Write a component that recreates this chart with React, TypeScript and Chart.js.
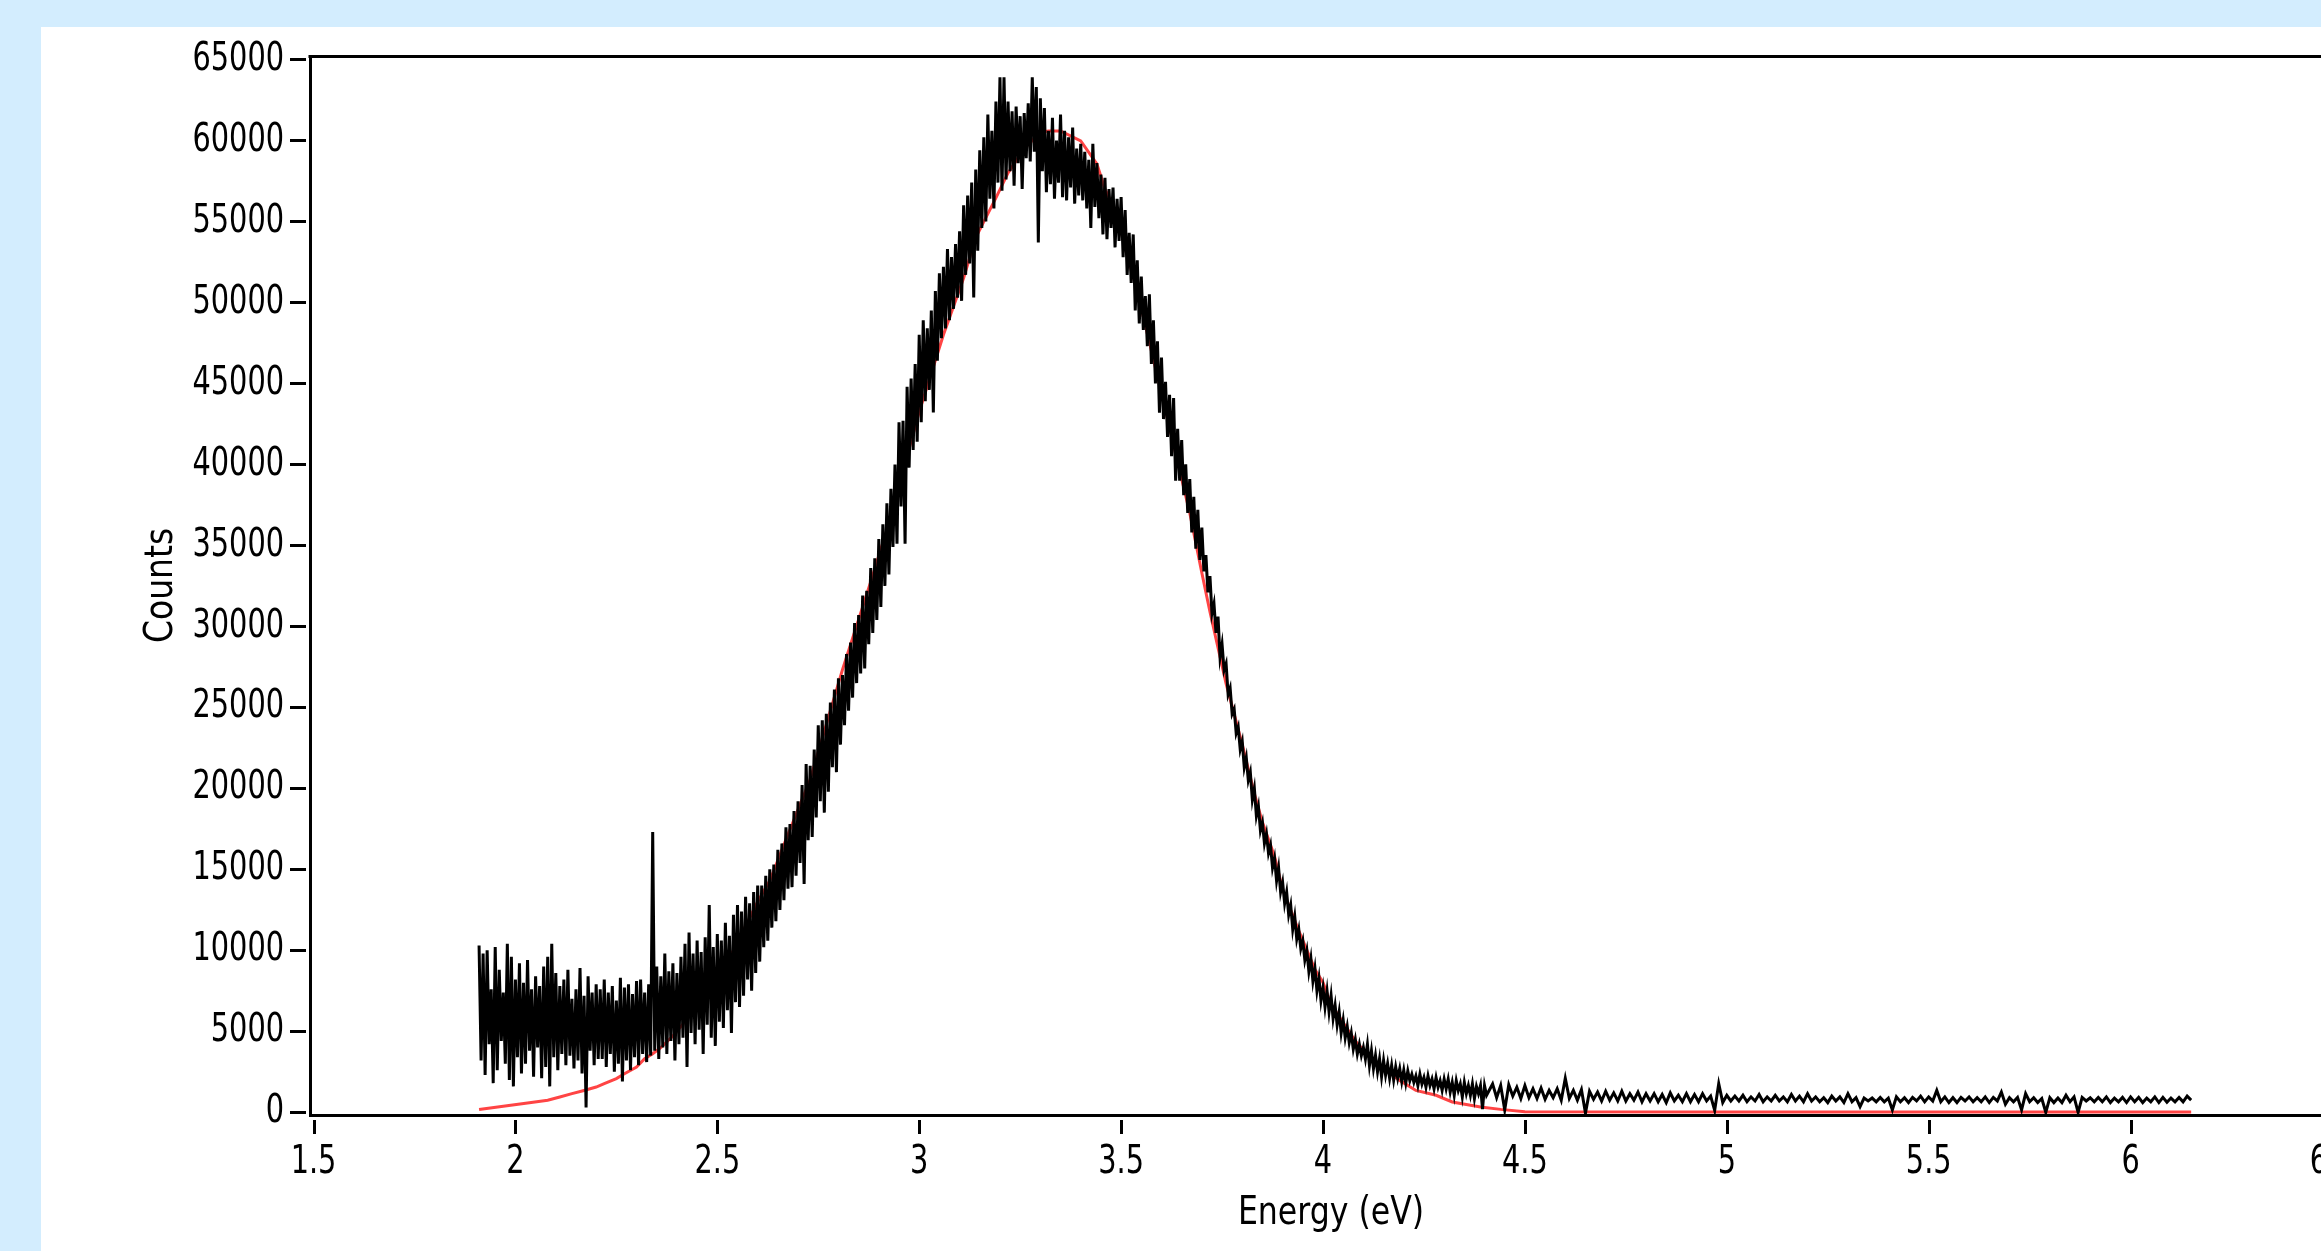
import React, { useEffect, useRef } from "react";
import { Chart, registerables } from "chart.js";

Chart.register(...registerables);

// ---------- axis setup ----------
const X_TICKS = [1.5, 2, 2.5, 3, 3.5, 4, 4.5, 5, 5.5, 6, 6.5];
const Y_TICKS = [0, 5000, 10000, 15000, 20000, 25000, 30000, 35000, 40000, 45000, 50000, 55000, 60000, 65000];
const X_MIN = 1.4913;
const X_MAX = 6.5483;
const Y_MIN = -167;
const Y_MAX = 65216;
const X_TITLE = "Energy (eV)";
const Y_TITLE = "Counts";

// ---------- measured spectrum (upper / lower envelope of the noisy trace) ----------
const DENSE_START = 1.91;
const DENSE_STEP = 0.01;
const DENSE_HI = [
  10300, 9800, 10000, 7600, 10200, 8800, 7400, 10400, 9600, 8200,
  9200, 8000, 9400, 7600, 8400, 7800, 9000, 9600, 10400, 8600,
  7800, 8200, 8800, 7000, 7600, 8900, 7200, 8400, 7400, 7900,
  7600, 8200, 7400, 7800, 6900, 8300, 7700, 7900, 7300, 8100,
  8200, 7400, 7900, 17300, 9000, 8400, 9800, 8700, 9200, 8600,
  9600, 10400, 11100, 9800, 10600, 9900, 10800, 12800, 10200, 11000,
  10600, 11700, 10900, 12200, 12800, 12400, 13300, 12900, 13600, 14000,
  14000, 14600, 15000, 15300, 16200, 16600, 17600, 17800, 18600, 19200,
  20200, 21500, 21400, 22400, 23900, 24200, 24600, 25300, 26100, 26800,
  27000, 28300, 29000, 30200, 30700, 31900, 32200, 33600, 34200, 35400,
  36300, 37600, 38500, 40000, 42600, 42700, 44800, 45300, 46200, 48000,
  48900, 48400, 49500, 50700, 51800, 52200, 53300, 52800, 53600, 54400,
  56000, 56600, 57400, 58200, 59400, 60200, 61600, 60600, 62400, 63900,
  63900, 62400, 61800, 62100, 61500, 61700, 62300, 63900, 63300, 62600,
  62000, 60600, 61400, 60000, 61600, 60600, 60200, 60800, 59500, 59800,
  59300, 58800, 59800, 58600, 57900, 57700, 57000, 57100, 56400, 56500,
  55700, 54300, 54200, 52600, 51600, 50400, 50500, 48900, 47600, 46600,
  45100, 44300, 44100, 42200, 41500, 40000, 39100, 38000, 37200, 36100,
  34400, 33100, 31400, 30600, 28900, 27700, 26200, 24900, 23800, 22900,
  21900, 21000, 20000, 18900, 17900, 17200, 16500, 15700, 15100, 14200,
  13600, 12800, 12100, 11300, 10600, 10000, 9500, 8900, 8300, 7700,
  7500, 7200, 6600, 6200, 5700, 5300, 4900, 4500, 4200, 4000,
  4200, 3800, 3500, 3300, 3200, 3000, 2900, 2800, 2700, 2600,
  2550, 2350, 2250, 2350, 2150, 2250, 2050, 2150, 1950, 2050,
  2050, 1850, 1950, 1750, 1850, 1650, 1750, 1600, 1650, 1650,
];
const DENSE_LO = [
  3200, 2300, 4200, 1800, 2600, 4400, 3000, 2000, 1600, 3400,
  2400, 3000, 3800, 2200, 4000, 2100, 2800, 1600, 3400, 2600,
  3600, 2900, 3500, 2700, 3200, 2400, 300, 3800, 2900, 3300,
  3300, 2800, 3600, 2500, 3000, 1900, 3200, 2600, 3400, 2900,
  3600, 3100, 3500, 3800, 3300, 4000, 3600, 4400, 3200, 4200,
  4600, 2800, 4900, 4200, 5100, 3600, 5400, 4600, 4100, 5600,
  5200, 6300, 4900, 6800, 6500, 7200, 8200, 7500, 8600, 9300,
  10200, 10600, 11400, 11800, 12500, 13100, 13800, 13900, 14600, 15400,
  14100, 16800, 17000, 18200, 19200, 18500, 19800, 21300, 21000, 22700,
  23900, 24800, 25600, 26500, 27100, 27400, 28900, 29600, 30400, 31200,
  32500, 33200, 34900, 35100, 37400, 35100, 39800, 40900, 41400, 42600,
  43900, 44600, 43200, 46400, 47800, 48400, 48900, 49600, 50300, 50100,
  51700, 52400, 50300, 53200, 54600, 55000, 56400, 55800, 57400, 56900,
  57600, 58100, 57200, 58600, 57000, 58900, 58700, 59300, 53700, 58100,
  56800, 57300, 56400, 57400, 56500, 56300, 57100, 56100, 56600, 56300,
  55800, 54600, 55900, 55200, 54200, 53900, 54600, 53400, 53800, 52800,
  51700, 51200, 49500, 48700, 48300, 47300, 46200, 45000, 43200, 42800,
  41700, 40500, 39000, 39000, 38100, 37000, 35800, 34800, 34100, 33400,
  32100, 30800, 29600, 28100, 27300, 25800, 24600, 23400, 22400, 21300,
  20500, 19300, 18300, 17400, 16600, 16000, 15100, 14300, 13600, 12900,
  12200, 11300, 10700, 10100, 9400, 8700, 8100, 7500, 6900, 6500,
  6200, 5800, 5400, 4900, 4600, 4300, 3900, 3600, 3500, 3300,
  2900, 2700, 2500, 2200, 2300, 2100, 2000, 2100, 1900, 1800,
  1950, 1850, 1650, 1750, 1550, 1650, 1450, 1550, 1350, 1450,
  1250, 1050, 1350, 950, 1150, 1050, 850, 1150, 200, 1050,
];

const TAIL_START = 4.42;
const TAIL_STEP = 0.02;
const TAIL_HI = [
  1750, 1650, 1700, 1550, 1650,
  1450, 1500, 1350, 1450, 2100,
  1350, 1400, 1300, 1250, 1300,
  1200, 1300, 1150, 1250, 1150,
  1150, 1100, 1200, 1050, 1150,
  1100, 1150, 1000, 1770, 1050,
  1000, 1050, 950, 1100, 950,
  1050, 950, 1100, 1000, 1150,
  950, 900, 1000, 950, 1150,
  900, 880, 880, 920, 880,
  950, 900, 920, 1000, 950,
  1350, 950, 900, 920, 950,
  900, 950, 920, 1250, 900,
  920, 1150, 900, 850, 900,
  880, 1050, 950, 920, 900,
  920, 950, 880, 920, 950,
  920, 880, 950, 920, 880,
  920, 1000,
];
const TAIL_LO = [
  900, 150, 1000, 850, 900,
  850, 800, 900, 750, 850,
  750, -50, 800, 700, 750,
  700, 700, 750, 650, 700,
  650, 600, 700, 650, 650,
  650, 700, 120, 600, 700,
  700, 650, 700, 650, 700,
  700, 650, 700, 650, 700,
  650, 600, 700, 600, 650,
  350, 700, 650, 650, 150,
  650, 600, 700, 650, 700,
  650, 600, 600, 700, 650,
  650, 600, 700, 500, 650,
  150, 650, 600, 0, 600,
  600, 650, 0, 700, 650,
  650, 600, 650, 600, 650,
  600, 650, 600, 620, 650,
  650, 750,
];

// ---------- fitted curve (red) ----------
const FIT_ENERGY = [
  1.91, 1.97, 2.03, 2.08, 2.11, 2.14, 2.17, 2.2, 2.22, 2.25, 2.27, 2.3, 2.32, 2.34, 2.36, 2.39,
  2.42, 2.45, 2.48, 2.51, 2.54, 2.57, 2.6, 2.63, 2.67, 2.73, 2.77, 2.81, 2.88, 2.92, 3.0, 3.06,
  3.11, 3.14, 3.19, 3.22, 3.26, 3.3, 3.32, 3.35, 3.4, 3.44, 3.46, 3.49, 3.51, 3.54, 3.6, 3.63,
  3.67, 3.7, 3.72, 3.76, 3.8, 3.83, 3.85, 3.88, 3.9, 3.94, 3.98, 4.0, 4.02, 4.08, 4.12, 4.16,
  4.19, 4.23, 4.28, 4.32, 4.39, 4.44, 4.5, 5.0, 6.15,
];
const FIT_COUNTS = [
  170, 370, 570, 740, 940, 1150, 1350, 1560, 1770, 2080, 2380, 2800, 3310, 3620, 3990, 4710,
  5600, 6500, 7500, 8700, 10000, 11500, 13000, 14300, 16840, 20550, 23940, 27330, 32760, 35970, 43250, 48000,
  51500, 54000, 56460, 58000, 59500, 60500, 60590, 60590, 59970, 58550, 57000, 55470, 53370, 50700, 44400, 41200,
  37000, 33300, 30900, 26470, 22700, 19680, 17900, 15800, 13760, 11200, 8820, 8020, 6660, 4400, 3300, 2530,
  1970, 1350, 1050, 640, 330, 180, 40, 20, 20,
];

// ---------- style ----------
const FONT_FAMILY = "'DejaVu Sans Condensed', 'DejaVu Sans', sans-serif";
const FONT_SIZE = 39;
const DIGIT_SCALE = 0.82;
const X_TITLE_SCALE = 0.9;
const Y_TITLE_SCALE = 0.94;
const PAGE_BG = "#d3edfe";
const CANVAS_W = 2420;
const CANVAS_H = 1251;

function buildSpectrum() {
  const pts: { x: number; y: number }[] = [];
  DENSE_HI.forEach((hi, i) => {
    const e = DENSE_START + i * DENSE_STEP;
    pts.push({ x: e, y: hi });
    pts.push({ x: e + DENSE_STEP / 2, y: DENSE_LO[i] });
  });
  TAIL_HI.forEach((hi, i) => {
    const e = TAIL_START + i * TAIL_STEP;
    pts.push({ x: e, y: hi });
    pts.push({ x: e + TAIL_STEP / 2, y: TAIL_LO[i] });
  });
  return pts;
}

// narrow the glyphs horizontally around their anchor, like the original's condensed UI font
function condenseText(ctx: any) {
  if (ctx.__condensed) return;
  const orig = ctx.fillText;
  ctx.fillText = function (text: string, x: number, y: number, maxWidth?: number) {
    const t = String(text);
    const s = t === X_TITLE ? X_TITLE_SCALE : t === Y_TITLE ? Y_TITLE_SCALE : DIGIT_SCALE;
    this.save();
    this.translate(x, y);
    this.scale(s, 1);
    if (maxWidth === undefined || maxWidth === null) orig.call(this, t, 0, 0);
    else orig.call(this, t, 0, 0, maxWidth / s);
    this.restore();
  };
  ctx.__condensed = true;
}

const frameAndTicks = {
  id: "frameAndTicks",
  afterDraw(chart: any) {
    const { ctx, chartArea, scales } = chart;
    ctx.save();
    ctx.strokeStyle = "#000";
    ctx.lineWidth = 3;
    ctx.lineCap = "butt";
    ctx.beginPath();
    ctx.moveTo(chartArea.left - 1.5, chartArea.top + 0.5);
    ctx.lineTo(chartArea.right + 1.5, chartArea.top + 0.5);
    ctx.moveTo(chartArea.right + 0.5, chartArea.top);
    ctx.lineTo(chartArea.right + 0.5, chartArea.bottom);
    Y_TICKS.forEach((v) => {
      const y = Math.round(scales.y.getPixelForValue(v)) + 0.5;
      ctx.moveTo(chartArea.left - 20, y);
      ctx.lineTo(chartArea.left - 4, y);
    });
    X_TICKS.forEach((v) => {
      const x = Math.round(scales.x.getPixelForValue(v)) + 0.5;
      ctx.moveTo(x, chartArea.bottom + 5);
      ctx.lineTo(x, chartArea.bottom + 19);
    });
    ctx.stroke();
    ctx.restore();
  },
};

export default function App() {
  const canvasRef = useRef<HTMLCanvasElement | null>(null);

  useEffect(() => {
    const canvas = canvasRef.current;
    if (!canvas) return;
    const ctx2d = canvas.getContext("2d");
    if (!ctx2d) return;
    condenseText(ctx2d);
    const font = { family: FONT_FAMILY, size: FONT_SIZE };
    const fit = FIT_ENERGY.map((e, i) => ({ x: e, y: FIT_COUNTS[i] }));
    const chart = new Chart(ctx2d, {
      type: "line",
      data: {
        datasets: [
          {
            label: "Counts",
            data: buildSpectrum(),
            borderColor: "#000000",
            borderWidth: 3,
            pointRadius: 0,
            tension: 0,
            fill: false,
          },
          {
            label: "Fit",
            data: fit,
            borderColor: "#ff4444",
            borderWidth: 3,
            pointRadius: 0,
            tension: 0,
            fill: false,
          },
        ],
      },
      options: {
        animation: false,
        responsive: false,
        devicePixelRatio: 1,
        parsing: false,
        normalized: true,
        layout: { padding: { left: 0, top: 56, right: CANVAS_W - 2352, bottom: 0 } },
        plugins: { legend: { display: false }, tooltip: { enabled: false } },
        scales: {
          x: {
            type: "linear",
            min: X_MIN,
            max: X_MAX,
            afterBuildTicks: (s: any) => {
              s.ticks = X_TICKS.map((v) => ({ value: v }));
            },
            afterFit: (s: any) => {
              s.height = 136;
            },
            grid: { display: true, drawOnChartArea: false, drawTicks: false },
            border: { display: true, color: "#000", width: 3 },
            ticks: {
              autoSkip: false,
              maxRotation: 0,
              minRotation: 0,
              padding: 24,
              color: "#000",
              font,
              callback: (v: any) => String(v),
            },
            title: {
              display: true,
              text: X_TITLE,
              color: "#000",
              font,
              padding: { top: 0, bottom: 14 },
            },
          },
          y: {
            type: "linear",
            min: Y_MIN,
            max: Y_MAX,
            afterBuildTicks: (s: any) => {
              s.ticks = Y_TICKS.map((v) => ({ value: v }));
            },
            afterFit: (s: any) => {
              s.width = 310;
            },
            grid: { display: true, drawOnChartArea: false, drawTicks: false },
            border: { display: true, color: "#000", width: 3 },
            ticks: {
              autoSkip: false,
              padding: 26,
              color: "#000",
              font,
              callback: (v: any) => String(v),
            },
            title: {
              display: true,
              text: Y_TITLE,
              color: "#000",
              font,
              padding: { top: 138, bottom: 0 },
            },
          },
        },
      },
      plugins: [frameAndTicks],
    } as any);
    return () => chart.destroy();
  }, []);

  return (
    <div
      style={{
        position: "fixed",
        left: 0,
        top: 0,
        width: "100vw",
        height: "100vh",
        overflow: "hidden",
        background: PAGE_BG,
      }}
    >
      <div
        style={{
          position: "absolute",
          left: 41,
          top: 27,
          right: 0,
          bottom: 0,
          background: "#ffffff",
        }}
      />
      <canvas
        ref={canvasRef}
        width={CANVAS_W}
        height={CANVAS_H}
        style={{
          position: "absolute",
          left: 0,
          top: 0,
          width: CANVAS_W,
          height: CANVAS_H,
        }}
      />
    </div>
  );
}
